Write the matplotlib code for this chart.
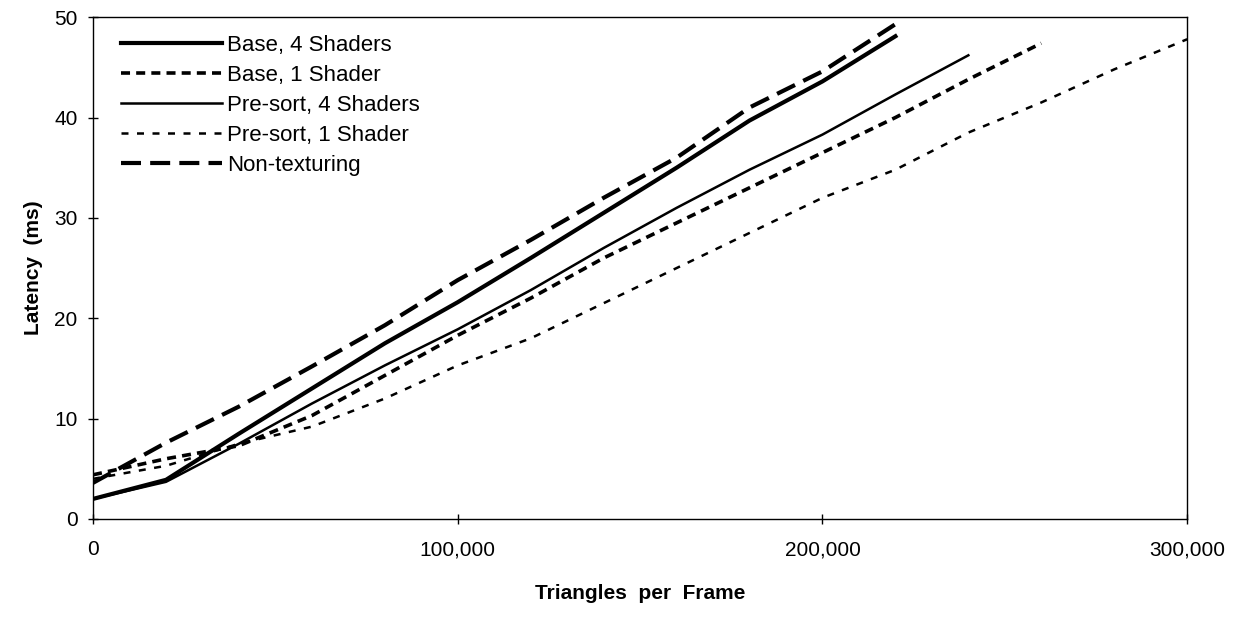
import matplotlib
matplotlib.use("Agg")
from matplotlib import pyplot as plt
from matplotlib.ticker import FuncFormatter

plt.rcParams['font.family'] = ['Liberation Sans', 'DejaVu Sans']

x = [0, 20000, 40000, 60000, 80000, 100000, 120000, 140000, 160000,
     180000, 200000, 220000, 240000, 260000, 280000, 300000]

base4 = [2.0, 3.9, 8.5, 13.0, 17.5, 21.6, 26.0, 30.5, 35.0, 39.7, 43.6, 48.1]
base1 = [4.4, 6.0, 7.3, 10.3, 14.3, 18.3, 22.0, 26.0, 29.5, 33.0, 36.5, 40.0, 43.8, 47.4]
presort4 = [2.0, 3.7, 7.5, 11.5, 15.3, 18.9, 22.8, 27.0, 31.0, 34.8, 38.3, 42.3, 46.2]
presort1 = [4.0, 5.3, 7.5, 9.2, 12.0, 15.3, 18.0, 21.5, 25.0, 28.5, 32.0, 34.8, 38.5, 41.5, 44.8, 47.8]
nontex = [3.6, 7.6, 11.2, 15.2, 19.3, 23.8, 27.8, 32.0, 36.0, 41.0, 44.6, 49.3]

fig = plt.figure(figsize=(12.49, 6.36), dpi=100)
ax = fig.add_axes([0.0745, 0.184, 0.876, 0.789])

ax.plot(x[:len(base4)], base4, color='black', lw=3.0, label='Base, 4 Shaders')
ax.plot(x[:len(base1)], base1, color='black', lw=2.6, dashes=(2.5, 1.7), label='Base, 1 Shader')
ax.plot(x[:len(presort4)], presort4, color='black', lw=1.8, label='Pre-sort, 4 Shaders')
ax.plot(x[:len(presort1)], presort1, color='black', lw=1.8, dashes=(2.8, 3.4), label='Pre-sort, 1 Shader')
ax.plot(x[:len(nontex)], nontex, color='black', lw=3.0, dashes=(4.8, 2.2), label='Non-texturing')

ax.set_xlim(0, 300000)
ax.set_ylim(0, 50)
ax.set_xticks([0, 100000, 200000, 300000])
ax.set_yticks([0, 10, 20, 30, 40, 50])
ax.xaxis.set_major_formatter(FuncFormatter(lambda v, p: f"{int(v):,}"))
ax.tick_params(direction='inout', length=6.5, width=1, labelsize=15, pad=8)
ax.tick_params(axis='x', pad=12)

for s in ax.spines.values():
    s.set_linewidth(1.0)

ax.set_xlabel('Triangles  per  Frame', fontsize=15, fontweight='bold', labelpad=18)
ax.set_ylabel('Latency  (ms)', fontsize=15, fontweight='bold', labelpad=8)

leg = ax.legend(loc='upper left', frameon=False, fontsize=16, handlelength=4.55,
                handletextpad=0.25, labelspacing=0.40, borderaxespad=0.3,
                bbox_to_anchor=(0.011, 0.995))

fig.savefig('out.png', dpi=100)
